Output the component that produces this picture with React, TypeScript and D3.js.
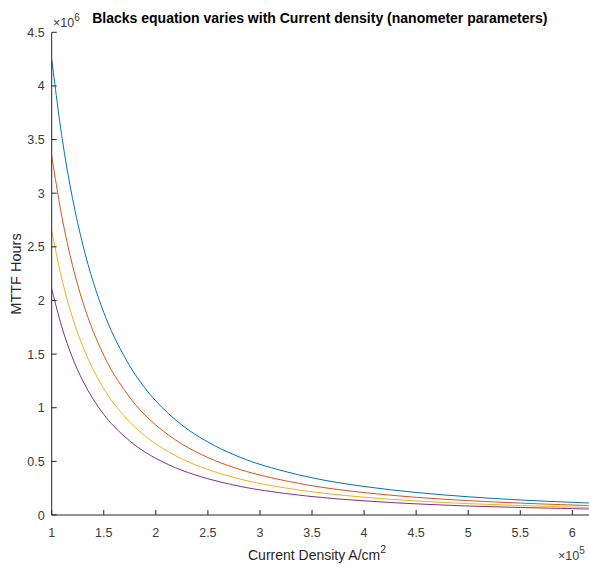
import React from "react";
import * as d3 from "d3";

const currentDensity = [1.0, 1.1, 1.2, 1.3, 1.4, 1.5, 1.6, 1.8, 2.0, 2.25, 2.5, 2.75, 3.0, 3.5, 4.0, 4.5, 5.0, 5.5, 6.0, 6.16];
const mttfBlue = [4.25, 3.512, 2.951, 2.515, 2.168, 1.889, 1.66, 1.312, 1.063, 0.839, 0.68, 0.562, 0.472, 0.347, 0.266, 0.21, 0.17, 0.14, 0.118, 0.112];
const mttfRed = [3.35, 2.769, 2.326, 1.982, 1.709, 1.489, 1.309, 1.034, 0.838, 0.662, 0.536, 0.443, 0.372, 0.273, 0.209, 0.165, 0.134, 0.111, 0.093, 0.088];
const mttfYellow = [2.65, 2.19, 1.84, 1.568, 1.352, 1.178, 1.035, 0.818, 0.663, 0.523, 0.424, 0.35, 0.294, 0.216, 0.166, 0.131, 0.106, 0.088, 0.074, 0.07];
const mttfPurple = [2.11, 1.744, 1.465, 1.249, 1.077, 0.938, 0.824, 0.651, 0.528, 0.417, 0.338, 0.279, 0.234, 0.172, 0.132, 0.104, 0.084, 0.07, 0.059, 0.056];
const seriesColors = ["#0072BD", "#D95319", "#EDB120", "#7E2F8E"];
const xTicks = [1, 1.5, 2, 2.5, 3, 3.5, 4, 4.5, 5, 5.5, 6];
const yTicks = [0, 0.5, 1, 1.5, 2, 2.5, 3, 3.5, 4, 4.5];

const W = 589, H = 567;
const left = 51.7, right = 589, top = 32.3, bottom = 515;
const font = "'Liberation Sans', Arial, Helvetica, sans-serif";
const axisColor = "#262626";
const tickColor = "#3a3a3a";

export default function App() {
  const x = d3.scaleLinear().domain([1, 6.16]).range([left, right]);
  const y = d3.scaleLinear().domain([0, 4.5]).range([bottom, top]);
  const line = d3
    .line<[number, number]>()
    .x((d) => x(d[0]))
    .y((d) => y(d[1]))
    .curve(d3.curveCatmullRom.alpha(0.5));
  const series = [mttfBlue, mttfRed, mttfYellow, mttfPurple];

  return (
    <svg width={W} height={H} style={{ position: "absolute", left: 0, top: 0, background: "#fff" }}>
      <rect width={W} height={H} fill="#fff" />
      <defs>
        <clipPath id="plotClip">
          <rect x={left} y={top} width={right - left} height={bottom - top} />
        </clipPath>
      </defs>
      <g clipPath="url(#plotClip)">
        {series.map((vals, i) => (
          <path
            key={i}
            d={line(currentDensity.map((c, k) => [c, vals[k]] as [number, number])) || ""}
            fill="none"
            stroke={seriesColors[i]}
            strokeWidth={1}
          />
        ))}
      </g>
      {/* axes */}
      <line x1={left} x2={left} y1={top} y2={bottom} stroke={axisColor} strokeWidth={1} />
      <line x1={left} x2={right} y1={bottom} y2={bottom} stroke={axisColor} strokeWidth={1} />
      {yTicks.map((t) => (
        <g key={"y" + t}>
          <line x1={left} x2={left + 5} y1={y(t)} y2={y(t)} stroke={axisColor} strokeWidth={1} />
          <text x={left - 7} y={y(t)} dy="0.36em" textAnchor="end" fontFamily={font} fontSize={12.5} fill={tickColor}>
            {String(t)}
          </text>
        </g>
      ))}
      {xTicks.map((t) => (
        <g key={"x" + t}>
          <line x1={x(t)} x2={x(t)} y1={bottom} y2={bottom - 5} stroke={axisColor} strokeWidth={1} />
          <text x={x(t)} y={537} textAnchor="middle" fontFamily={font} fontSize={12.5} fill={tickColor}>
            {String(t)}
          </text>
        </g>
      ))}
      {/* exponent labels */}
      <text x={53} y={27.3} fontFamily={font} fontSize={12.5} fill={tickColor}>
        ×10<tspan dy={-6.5} fontSize={10}>6</tspan>
      </text>
      <text x={558} y={560} fontFamily={font} fontSize={12.5} fill={tickColor}>
        ×10<tspan dy={-6.5} fontSize={10}>5</tspan>
      </text>
      {/* title */}
      <text x={319.8} y={23} textAnchor="middle" fontFamily={font} fontSize={14} fontWeight="bold" fill="#000">
        Blacks equation varies with Current density (nanometer parameters)
      </text>
      {/* axis labels */}
      <text x={248} y={560} fontFamily={font} fontSize={14} fill={axisColor}>
        Current Density A/cm<tspan dy={-7} fontSize={10.5}>2</tspan>
      </text>
      <text transform={`translate(21,274) rotate(-90)`} textAnchor="middle" fontFamily={font} fontSize={14.5} fill={axisColor}>
        MTTF Hours
      </text>
    </svg>
  );
}
